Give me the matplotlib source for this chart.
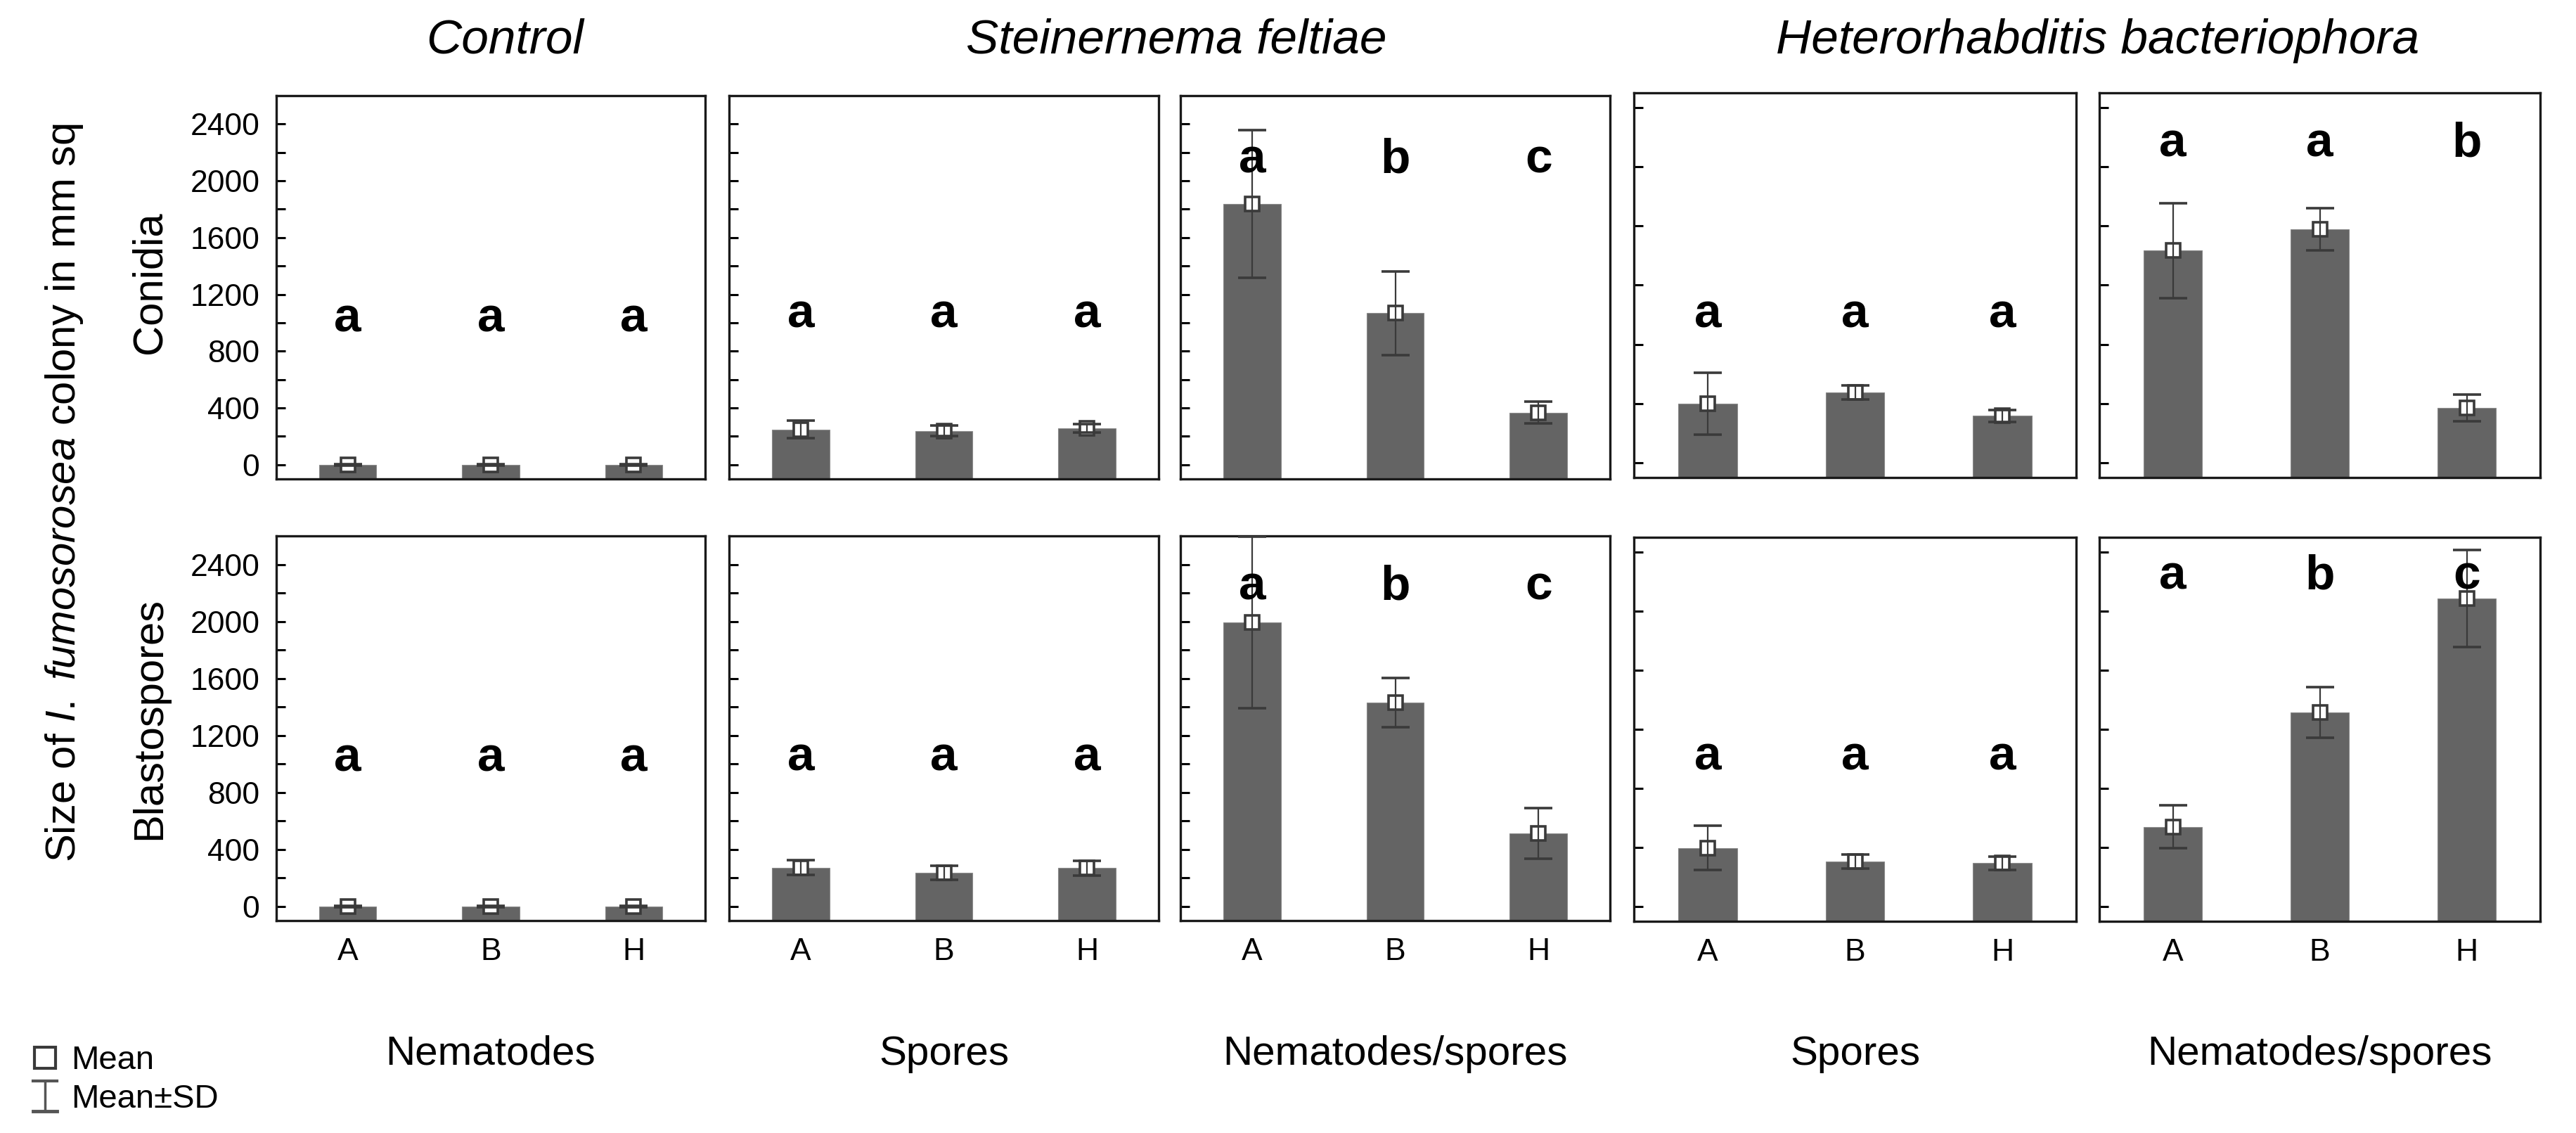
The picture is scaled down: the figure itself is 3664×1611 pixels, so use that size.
import matplotlib
matplotlib.use("Agg")
import matplotlib.pyplot as plt
from matplotlib.lines import Line2D
import numpy as np

plt.rcParams['font.family'] = ['Liberation Sans', 'DejaVu Sans']
plt.rcParams['mathtext.fontset'] = 'custom'
plt.rcParams['mathtext.rm'] = 'Liberation Sans'
plt.rcParams['mathtext.it'] = 'Liberation Sans:italic'

# ---------------- data ----------------
categories = ['A', 'B', 'H']
group_titles = ['Control', 'Steinernema feltiae', 'Heterorhabditis bacteriophora']
panel_labels = ['Nematodes', 'Spores', 'Nematodes/spores', 'Spores', 'Nematodes/spores']
row_labels = ['Conidia', 'Blastospores']

conidia_mean = [[0, 0, 0], [247, 238, 256], [1838, 1068, 368], [399, 474, 316], [1434, 1577, 371]]
conidia_sd = [[5, 5, 5], [62, 38, 28], [521, 295, 76], [210, 47, 40], [320, 144, 89]]
blasto_mean = [[0, 0, 0], [272, 234, 268], [1993, 1430, 514], [396, 303, 293], [540, 1313, 2085]]
blasto_sd = [[5, 5, 5], [52, 50, 53], [600, 175, 178], [150, 48, 45], [145, 172, 330]]

conidia_letters = [['a', 'a', 'a'], ['a', 'a', 'a'], ['a', 'b', 'c'], ['a', 'a', 'a'], ['a', 'a', 'b']]
blasto_letters = [['a', 'a', 'a'], ['a', 'a', 'a'], ['a', 'b', 'c'], ['a', 'a', 'a'], ['a', 'b', 'c']]
conidia_letter_level = [940, 969, 2057, 913, 2071]
blasto_letter_level = [951, 954, 2154, 924, 2148]

# ---------------- layout ----------------
W, H = 3664, 1611
fig = plt.figure(figsize=(W / 100, H / 100), dpi=100)


def box(x0, x1, y0, y1):
    return [x0 / W, 1 - y1 / H, (x1 - x0) / W, (y1 - y0) / H]


xs = [(393, 1003), (1037, 1648), (1679, 2290), (2324, 2953), (2986, 3613)]
ys_top = [(136, 681)] * 3 + [(132, 679)] * 2
ys_bot = [(762, 1309)] * 3 + [(764, 1310)] * 2

BAR = '#646464'
EDGE = '#333333'
x = np.arange(len(categories))


def draw_panel(ax, means, sds, letters, level, col, bottom_row):
    big = col >= 3
    ymin = -100
    ymax = 2500 if big else 2600
    ax.set_xlim(-0.5, 2.5)
    ax.set_ylim(ymin, ymax)
    ax.bar(x, np.array(means) - ymin, bottom=ymin, width=0.40, color=BAR,
           edgecolor='#8a8a8a', linewidth=0.8, zorder=2)
    ax.plot(x, means, ls='none', marker='s', ms=14, mfc='white', mec='#3a3a3a',
            mew=2.6, zorder=3)
    ax.errorbar(x, means, yerr=sds, fmt='none', ecolor='#3a3a3a', elinewidth=1.6,
                capsize=14.5, capthick=2.6, zorder=4)
    for xi, t in zip(x, letters):
        ax.text(xi, level, t, ha='center', va='baseline', fontsize=50,
                fontweight='bold', zorder=5)
    for s in ax.spines.values():
        s.set_linewidth(2.4)
        s.set_color('#1a1a1a')
    if big:
        ax.set_yticks(np.arange(0, 2401, 400))
    else:
        ax.set_yticks(np.arange(0, 2401, 400))
        ax.set_yticks(np.arange(0, 2401, 200), minor=True)
    ax.tick_params(axis='y', which='both', direction='in', length=9, width=2.2,
                   labelsize=32, pad=17, right=False)
    ax.tick_params(axis='x', direction='in', length=10, width=1.8, labelsize=32,
                   pad=17, top=False)
    ax.set_xticks(x)
    if bottom_row:
        ax.set_xticklabels(categories)
    else:
        ax.set_xticklabels([])
    if col != 0:
        ax.set_yticklabels([])


for c in range(5):
    ax = fig.add_axes(box(xs[c][0], xs[c][1], ys_top[c][0], ys_top[c][1]))
    draw_panel(ax, conidia_mean[c], conidia_sd[c], conidia_letters[c],
               conidia_letter_level[c], c, False)
    ax2 = fig.add_axes(box(xs[c][0], xs[c][1], ys_bot[c][0], ys_bot[c][1]))
    draw_panel(ax2, blasto_mean[c], blasto_sd[c], blasto_letters[c],
               blasto_letter_level[c], c, True)
    # panel labels below
    fig.text(((xs[c][0] + xs[c][1]) / 2) / W, 1 - 1514 / H, panel_labels[c],
             ha='center', va='baseline', fontsize=42)

# group titles
title_centers = [(xs[0][0] + xs[0][1]) / 2 + 20, (xs[1][0] + xs[2][1]) / 2 + 10,
                 (xs[3][0] + xs[4][1]) / 2 + 15]
for t, cx in zip(group_titles, title_centers):
    fig.text(cx / W, 1 - 76 / H, t, ha='center', va='baseline', fontsize=50,
             style='italic')

# row labels
fig.text(228 / W, 1 - 402 / H, row_labels[0], rotation=90, rotation_mode='anchor',
         ha='center', va='baseline', fontsize=43)
fig.text(228 / W, 1 - 1021 / H, row_labels[1], rotation=90, rotation_mode='anchor',
         ha='center', va='baseline', fontsize=43)
# main y label
fig.text(107 / W, 1 - 701 / H, r'Size of $\mathit{I.\ fumosorosea}$ colony in mm sq',
         rotation=90, rotation_mode='anchor', ha='center', va='baseline', fontsize=43)

# legend
fig.add_artist(Line2D([64 / W], [1 - 1504 / H], marker='s', ms=22, mfc='white',
                      mec='#3a3a3a', mew=3, ls='none', transform=fig.transFigure))
fig.add_artist(Line2D([64 / W, 64 / W], [1 - 1537 / H, 1 - 1580 / H], color='#555555',
                      lw=2.5, transform=fig.transFigure))
fig.add_artist(Line2D([47 / W, 81 / W], [1 - 1537 / H, 1 - 1537 / H], color='#555555',
                      lw=3, transform=fig.transFigure))
fig.add_artist(Line2D([47 / W, 81 / W], [1 - 1580 / H, 1 - 1580 / H], color='#555555',
                      lw=3.5, transform=fig.transFigure))
fig.text(101 / W, 1 - 1520 / H, 'Mean', ha='left', va='baseline', fontsize=34)
fig.text(101 / W, 1 - 1575 / H, 'Mean\u00b1SD', ha='left', va='baseline', fontsize=34)

fig.savefig('out.png', dpi=100, facecolor='white')
